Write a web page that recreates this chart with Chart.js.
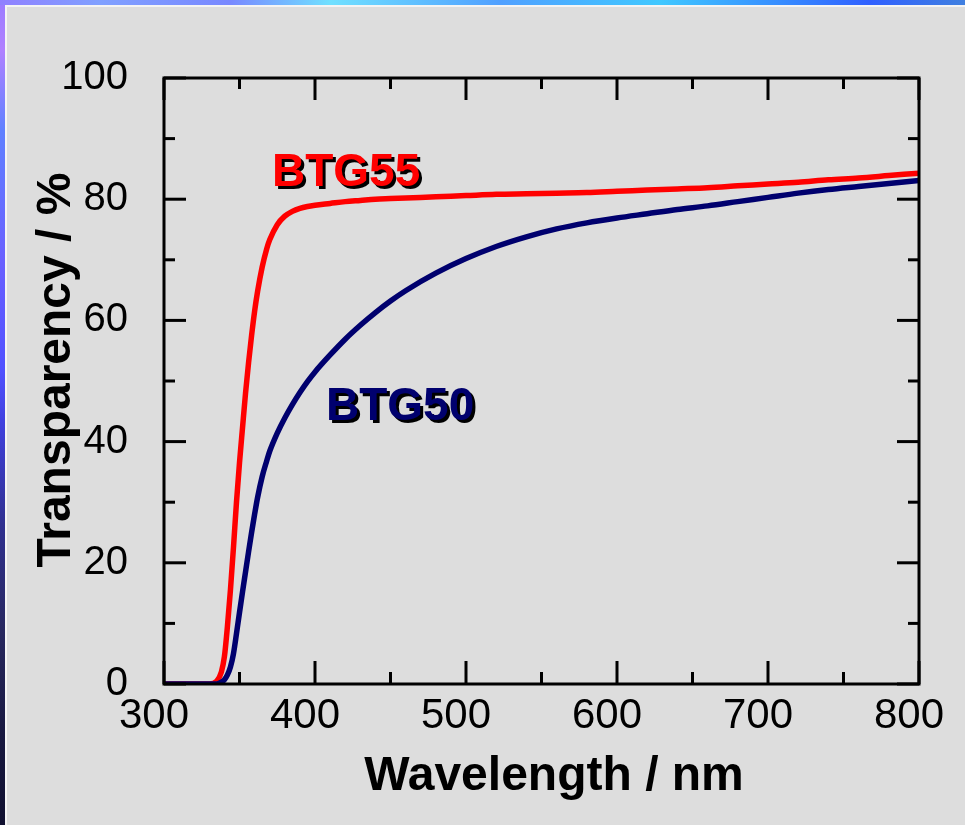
<!DOCTYPE html>
<html>
<head>
<meta charset="utf-8">
<script src="https://cdn.jsdelivr.net/npm/chart.js@4/dist/chart.umd.min.js"></script>
<style>
  html, body { margin: 0; padding: 0; }
  body {
    width: 965px; height: 825px; position: relative; overflow: hidden;
    background: linear-gradient(to bottom, #9a7cff 0px, #b080ff 50px, #6080ff 130px, #6a60ff 260px,
      #5050ff 370px, #4040e0 420px, #303090 525px, #282860 630px, #181840 735px, #101030 825px);
  }
  #topstrip {
    position: absolute; left: 0; top: 0; width: 965px; height: 5px;
    background: linear-gradient(to right, #9080ff 0px, #80a0ff 100px, #7888ff 230px, #70e0ff 330px,
      #50a0ff 500px, #40c8ff 660px, #3060ff 870px, #4080e0 965px);
  }
  #panel {
    position: absolute; left: 5px; top: 5px; right: 0; bottom: 0;
    background: #dddddd; border-left: 2px solid #f4f4f4; border-top: 2px solid #f4f4f4;
  }
  #chart { position: absolute; left: 0; top: 0; }
</style>
</head>
<body>
<div id="topstrip"></div>
<div id="panel"></div>
<canvas id="chart" width="965" height="825"></canvas>
<script>
// Transmission spectra
const wavelengths = [300, 320, 330, 335, 338, 340, 342, 344, 346, 348, 350, 352, 354, 356, 358, 360, 362, 365, 368, 370,
  375, 380, 385, 390, 395, 400, 410, 420, 430, 440, 450, 460, 480, 500, 520, 540, 560, 580, 600, 620,
  640, 660, 680, 700, 720, 740, 760, 780, 800];
const btg55 = [0, 0, 0, 0.5, 2, 4.5, 9.5, 15.5, 22.5, 30, 36.5, 42.3, 48, 53, 57.5, 61.5, 64.8, 68.8, 71.8, 73.3,
  75.8, 77.2, 78, 78.5, 78.8, 79.0, 79.3, 79.6, 79.8, 80.0, 80.1, 80.2, 80.4, 80.6, 80.8, 80.9, 81.0, 81.1, 81.3, 81.5,
  81.7, 81.9, 82.2, 82.5, 82.8, 83.2, 83.5, 83.9, 84.3];
const btg50 = [0, 0, 0, 0, 0.3, 0.7, 1.5, 2.8, 5, 8.3, 11.8, 15.2, 18.5, 21.8, 25, 28, 30.8, 34.2, 36.8, 38.4,
  41.4, 43.9, 46.1, 48.1, 49.9, 51.5, 54.3, 56.9, 59.2, 61.3, 63.2, 64.9, 67.8, 70.2, 72.2, 73.8, 75.1, 76.1, 76.9, 77.6,
  78.3, 78.9, 79.6, 80.3, 81, 81.6, 82.1, 82.6, 83.1];
const xTicks = [300, 400, 500, 600, 700, 800];
const yTicks = [0, 20, 40, 60, 80, 100];
const xMinor = [350, 450, 550, 650, 750];
const yMinor = [10, 30, 50, 70, 90];

const FONT = "'Liberation Sans', Arial, sans-serif";

const toPoints = (ys) => wavelengths.map((x, i) => ({ x: x, y: ys[i] }));

// frame, inward ticks, axis titles and curve labels
const decorations = {
  id: "decorations",
  afterDraw(chart) {
    const { ctx, chartArea: a, scales } = chart;
    const xs = scales.x, ys = scales.y;
    ctx.save();
    ctx.strokeStyle = "#000";
    ctx.lineWidth = 3;
    ctx.strokeRect(a.left, a.top, a.right - a.left, a.bottom - a.top);

    const tick = (x1, y1, x2, y2) => {
      ctx.beginPath(); ctx.moveTo(x1, y1); ctx.lineTo(x2, y2); ctx.stroke();
    };
    xTicks.forEach(v => {
      const px = xs.getPixelForValue(v);
      tick(px, a.bottom, px, a.bottom - 23);
      tick(px, a.top, px, a.top + 22);
    });
    xMinor.forEach(v => {
      const px = xs.getPixelForValue(v);
      tick(px, a.bottom, px, a.bottom - 12);
      tick(px, a.top, px, a.top + 11);
    });
    yTicks.forEach(v => {
      const py = ys.getPixelForValue(v);
      tick(a.left, py, a.left + 22, py);
      tick(a.right, py, a.right - 22, py);
    });
    yMinor.forEach(v => {
      const py = ys.getPixelForValue(v);
      tick(a.left, py, a.left + 11, py);
      tick(a.right, py, a.right - 11, py);
    });

    // axis titles
    ctx.fillStyle = "#000";
    ctx.font = "bold 48px " + FONT;
    ctx.textAlign = "center";
    ctx.textBaseline = "alphabetic";
    ctx.fillText("Wavelength / nm", 554, 790);
    ctx.save();
    ctx.translate(70, 370);
    ctx.rotate(-Math.PI / 2);
    ctx.fillText("Transparency / %", 0, 0);
    ctx.restore();

    // series labels with drop shadow
    ctx.textAlign = "left";
    ctx.font = "bold 46px " + FONT;
    const label = (text, x, y, color) => {
      ctx.fillStyle = "#000";
      ctx.fillText(text, x + 3, y + 3);
      ctx.fillStyle = color;
      ctx.fillText(text, x, y);
    };
    label("BTG55", 272, 186, "#ff0000");
    label("BTG50", 326, 420, "#00006e");
    ctx.restore();
  }
};

new Chart(document.getElementById("chart"), {
  type: "line",
  data: {
    datasets: [
      {
        label: "BTG50",
        data: toPoints(btg50),
        borderColor: "#00006e",
        borderWidth: 5.5,
        pointRadius: 0,
        cubicInterpolationMode: "monotone"
      },
      {
        label: "BTG55",
        data: toPoints(btg55),
        borderColor: "#ff0000",
        borderWidth: 5.5,
        pointRadius: 0,
        cubicInterpolationMode: "monotone"
      }
    ]
  },
  options: {
    responsive: false,
    devicePixelRatio: 1,
    animation: false,
    layout: { padding: { top: 78, right: 46, left: 0, bottom: 0 } },
    plugins: { legend: { display: false }, tooltip: { enabled: false } },
    scales: {
      x: {
        type: "linear",
        min: 300,
        max: 800,
        afterFit(scale) { scale.height = 141; },
        afterBuildTicks(scale) { scale.ticks = xTicks.map(v => ({ value: v })); },
        grid: { display: false, drawTicks: false },
        border: { display: false },
        ticks: { color: "#000", padding: 7, labelOffset: -10, maxRotation: 0, font: { family: FONT, size: 42 } }
      },
      y: {
        min: 0,
        max: 100,
        afterFit(scale) { scale.width = 164; },
        afterBuildTicks(scale) { scale.ticks = yTicks.map(v => ({ value: v })); },
        grid: { display: false, drawTicks: false },
        border: { display: false },
        ticks: { color: "#000", padding: 36, font: { family: FONT, size: 40 } }
      }
    }
  },
  plugins: [decorations]
});
</script>
</body>
</html>
